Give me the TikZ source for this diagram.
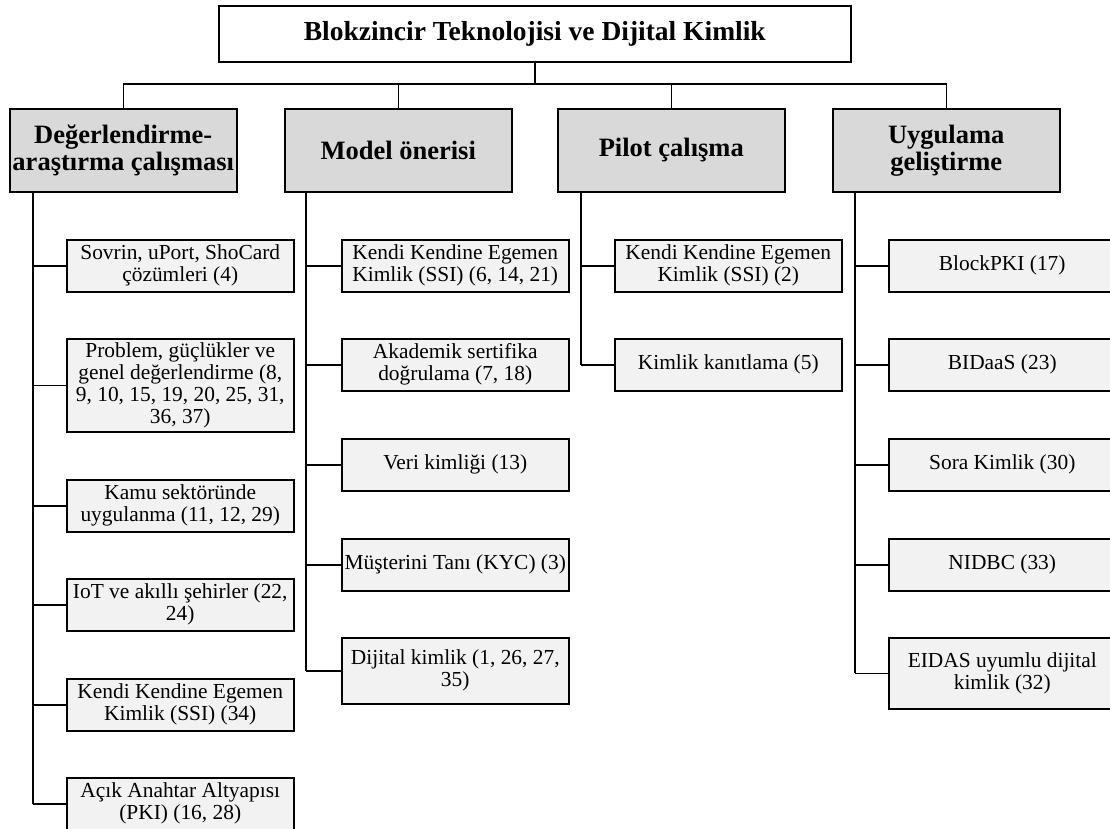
\documentclass[tikz,border=0pt]{standalone}
\usepackage{fontspec}
\setmainfont{Liberation Serif}
\definecolor{catgray}{HTML}{D9D9D9}
\definecolor{leafgray}{HTML}{F2F2F2}
\begin{document}
\begin{tikzpicture}[x=1pt,y=-1pt,
  box/.style={draw=black, line width=1.5pt, inner sep=0pt, align=center, anchor=north west},
  titlebox/.style={box, fill=white, minimum width=632pt, minimum height=56pt, font=\fontsize{27.5}{30}\selectfont\bfseries},
  catbox/.style={box, fill=catgray, minimum width=227pt, minimum height=83pt, font=\fontsize{26.5}{27}\selectfont\bfseries},
  leafbox/.style={box, fill=leafgray, minimum width=227pt, minimum height=52pt, font=\fontsize{21.4}{22}\selectfont},
  conn/.style={line width=1.5pt},
  spine/.style={line width=2pt}]
\useasboundingbox (0,0) rectangle (1110,828);

% title and categories
\node[titlebox] (T) at (218,5) {Blokzincir Teknolojisi ve Dijital Kimlik};
\node[catbox] (C1) at (9,108) {Değerlendirme-\\araştırma çalışması};
\node[catbox] (C2) at (284,108) {Model önerisi};
\node[catbox] (C3) at (557,108) {Pilot çalışma};
\node[catbox] (C4) at (832,108) {Uygulama\\geliştirme};

\coordinate (bus) at (0,84);
\draw[conn] (T.south) -- (T.south |- bus);
\draw[conn] (C1.north) -- (C1.north |- bus) -- (C4.north |- bus) -- (C4.north);
\draw[conn] (C2.north) -- (C2.north |- bus);
\draw[conn] (C3.north) -- (C3.north |- bus);

% column 1
\node[leafbox] (A1) at (66,239) {Sovrin, uPort, ShoCard\\çözümleri (4)};
\node[leafbox, minimum height=93pt] (A2) at (66,338) {Problem, güçlükler ve\\genel değerlendirme (8,\\9, 10, 15, 19, 20, 25, 31,\\36, 37)};
\node[leafbox] (A3) at (66,479) {Kamu sektöründe\\uygulanma (11, 12, 29)};
\node[leafbox] (A4) at (66,578) {IoT ve akıllı şehirler (22,\\24)};
\node[leafbox] (A5) at (66,678) {Kendi Kendine Egemen\\Kimlik (SSI) (34)};
\node[leafbox] (A6) at (66,777) {Açık Anahtar Altyapısı\\(PKI) (16, 28)};

% column 2
\node[leafbox] (B1) at (341,239) {Kendi Kendine Egemen\\Kimlik (SSI) (6, 14, 21)};
\node[leafbox] (B2) at (341,338) {Akademik sertifika\\doğrulama (7, 18)};
\node[leafbox] (B3) at (341,438) {Veri kimliği (13)};
\node[leafbox] (B4) at (341,538) {Müşterini Tanı (KYC) (3)};
\node[leafbox, minimum height=66pt] (B5) at (341,637) {Dijital kimlik (1, 26, 27,\\35)};

% column 3
\node[leafbox] (P1) at (614,239) {Kendi Kendine Egemen\\Kimlik (SSI) (2)};
\node[leafbox] (P2) at (614,338) {Kimlik kanıtlama (5)};

% column 4
\node[leafbox] (U1) at (888,239) {BlockPKI (17)};
\node[leafbox] (U2) at (888,338) {BIDaaS (23)};
\node[leafbox] (U3) at (888,438) {Sora Kimlik (30)};
\node[leafbox] (U4) at (888,538) {NIDBC (33)};
\node[leafbox, minimum height=71pt] (U5) at (888,637) {EIDAS uyumlu dijital\\kimlik (32)};

% spines
\coordinate (s1) at (33,0);
\coordinate (s2) at (306,0);
\coordinate (s3) at (581,0);
\coordinate (s4) at (855,0);

\draw[spine] (C1.south -| s1) -- (s1 |- A6.west);
\draw[spine] (C2.south -| s2) -- (s2 |- B5.west);
\draw[spine] (C3.south -| s3) -- (s3 |- P2.west);
\draw[spine] (C4.south -| s4) -- (s4 |- U5.west);

\foreach \n in {A1,A2,A3,A4,A5,A6} \draw[conn] (s1 |- \n.west) -- (\n.west);
\foreach \n in {B1,B2,B3,B4,B5} \draw[conn] (s2 |- \n.west) -- (\n.west);
\foreach \n in {P1,P2} \draw[conn] (s3 |- \n.west) -- (\n.west);
\foreach \n in {U1,U2,U3,U4,U5} \draw[conn] (s4 |- \n.west) -- (\n.west);
\end{tikzpicture}
\end{document}
